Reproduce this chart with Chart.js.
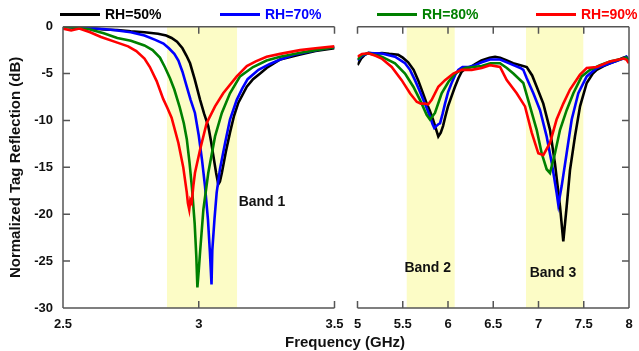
<!DOCTYPE html>
<html><head><meta charset="utf-8">
<script src="https://cdn.jsdelivr.net/npm/chart.js@4.4.0/dist/chart.umd.min.js"></script>
<style>
html,body{margin:0;padding:0;background:#fff;width:639px;height:351px;overflow:hidden;font-family:"Liberation Sans",Arial,sans-serif;}
#wrap{position:relative;width:639px;height:351px;}
#leftC{position:absolute;left:0;top:0;}
#rightC{position:absolute;left:340px;top:0;}
.leg{position:absolute;top:5px;height:18px;font-weight:bold;font-size:14px;line-height:18px;white-space:nowrap;}
.leg .ln{display:inline-block;width:40px;height:3px;vertical-align:middle;margin-right:5px;position:relative;top:-1px;}
#xtitle{position:absolute;left:245px;width:200px;top:333px;text-align:center;font-weight:bold;font-size:15px;line-height:18px;color:#111;}
</style>
</head><body>
<div id="wrap">
<canvas id="leftC" width="350" height="351"></canvas>
<canvas id="rightC" width="299" height="351"></canvas>
<div id="legend"></div>
<div id="xtitle">Frequency (GHz)</div>
</div>
<script>
// ---------- DATA ----------
const seriesLabels = ['RH=50%', 'RH=70%', 'RH=80%', 'RH=90%'];

// Left panel (2.5 - 3.5 GHz)
const l50Freq = [2.5,2.55,2.6,2.65,2.7,2.75,2.8,2.85,2.88,2.9,2.92,2.94,2.955,2.968,2.985,3.005,3.02,3.035,3.045,3.054,3.064,3.072,3.078,3.085,3.1,3.115,3.13,3.146,3.177,3.2,3.226,3.25,3.3,3.37,3.43,3.5];
const l50Db   = [0,-0.1,-0.15,-0.3,-0.35,-0.5,-0.6,-0.75,-0.95,-1.2,-1.6,-2.3,-3.1,-3.9,-5.6,-7.8,-9.3,-10.6,-12.2,-13.8,-15.6,-16.8,-16.5,-15.6,-13.3,-11.3,-9.5,-8.1,-6.4,-5.6,-5.0,-4.4,-3.5,-3.0,-2.6,-2.3];

const l70Freq = [2.5,2.55,2.6,2.65,2.7,2.75,2.8,2.84,2.87,2.89,2.91,2.925,2.94,2.955,2.97,2.986,3.0,3.012,3.023,3.034,3.041,3.047,3.05,3.058,3.066,3.078,3.097,3.115,3.14,3.16,3.18,3.22,3.26,3.3,3.35,3.4,3.45,3.5];
const l70Db   = [0,-0.05,-0.15,-0.25,-0.4,-0.6,-0.95,-1.4,-1.8,-2.3,-2.9,-3.6,-4.8,-6.3,-7.8,-9.2,-11.6,-14.2,-17.0,-20.6,-24.0,-27.5,-23.8,-20.5,-17.7,-15.2,-12.4,-9.9,-7.8,-6.6,-5.6,-4.6,-4.0,-3.5,-3.0,-2.7,-2.4,-2.2];

const l80Freq = [2.5,2.55,2.6,2.65,2.7,2.75,2.8,2.83,2.857,2.875,2.894,2.91,2.93,2.945,2.956,2.966,2.975,2.985,2.991,2.995,3.0,3.005,3.017,3.035,3.06,3.085,3.115,3.152,3.2,3.25,3.3,3.37,3.43,3.5];
const l80Db   = [0,-0.1,-0.3,-0.7,-1.2,-1.5,-2.0,-2.5,-3.3,-4.3,-5.5,-6.7,-8.6,-10.3,-12.0,-14.5,-17.2,-21.0,-24.5,-27.8,-26.0,-24.0,-19.5,-15.6,-11.7,-9.2,-7.1,-5.3,-4.3,-3.6,-3.2,-2.8,-2.5,-2.2];

const l90Freq = [2.5,2.53,2.56,2.6,2.64,2.7,2.74,2.77,2.8,2.82,2.845,2.869,2.885,2.9,2.925,2.943,2.956,2.96,2.965,2.969,2.974,2.98,2.986,3.005,3.029,3.06,3.09,3.14,3.177,3.21,3.25,3.3,3.373,3.43,3.5];
const l90Db   = [-0.2,-0.4,-0.2,-0.6,-1.1,-1.7,-2.1,-2.6,-3.4,-4.3,-5.8,-7.7,-8.7,-9.7,-12.4,-15.0,-17.7,-18.8,-19.5,-18.5,-18.8,-17.0,-15.6,-13.1,-10.3,-8.5,-7.1,-5.3,-4.2,-3.7,-3.2,-2.9,-2.5,-2.3,-2.1];

// Right panel (5 - 8 GHz)
const r50Freq = [5.0,5.04,5.08,5.12,5.2,5.27,5.35,5.45,5.5,5.56,5.62,5.67,5.72,5.765,5.8,5.834,5.87,5.893,5.92,5.945,5.97,6.0,6.04,6.077,6.115,6.151,6.2,6.25,6.3,6.37,6.46,6.52,6.575,6.65,6.72,6.8,6.87,6.93,6.98,7.053,7.127,7.182,7.238,7.274,7.311,7.348,7.403,7.459,7.533,7.6,7.643,7.72,7.79,7.87,7.937,7.97,8.0];
const r50Db   = [-4.1,-3.4,-3.0,-2.8,-2.9,-2.8,-2.9,-3.0,-3.3,-3.8,-4.6,-5.7,-7.0,-8.2,-9.0,-9.9,-11.0,-11.7,-11.3,-10.6,-9.6,-8.5,-7.4,-6.4,-5.5,-4.8,-4.4,-4.3,-4.0,-3.6,-3.3,-3.2,-3.3,-3.6,-3.9,-4.1,-4.3,-5.2,-6.4,-8.2,-11.0,-14.6,-19.2,-22.9,-19.2,-15.3,-11.7,-8.5,-6.0,-5.0,-4.6,-4.2,-3.9,-3.6,-3.3,-3.2,-3.8];

const r70Freq = [5.0,5.05,5.12,5.27,5.414,5.525,5.58,5.635,5.68,5.727,5.77,5.801,5.83,5.849,5.87,5.893,5.912,5.94,5.967,6.0,6.04,6.077,6.114,6.16,6.225,6.3,6.372,6.464,6.575,6.65,6.722,6.8,6.832,6.87,6.943,7.017,7.09,7.146,7.2,7.219,7.256,7.311,7.367,7.44,7.533,7.643,7.79,7.937,7.97,8.0];
const r70Db   = [-3.6,-3.1,-2.8,-2.85,-3.2,-3.9,-4.6,-5.7,-6.7,-7.8,-8.8,-9.6,-10.4,-10.8,-10.6,-10.4,-10.3,-9.3,-8.2,-7.0,-6.0,-5.2,-4.6,-4.3,-4.3,-4.1,-3.8,-3.5,-3.5,-3.8,-4.1,-4.4,-4.6,-5.5,-7.1,-8.9,-11.7,-14.5,-17.7,-19.0,-17.0,-13.5,-9.9,-7.1,-5.3,-4.4,-3.9,-3.4,-3.2,-3.6];

const r80Freq = [5.0,5.05,5.12,5.267,5.414,5.525,5.617,5.69,5.764,5.801,5.856,5.93,6.004,6.077,6.188,6.372,6.47,6.575,6.65,6.722,6.832,6.906,6.98,7.035,7.09,7.127,7.182,7.238,7.311,7.385,7.477,7.569,7.68,7.79,7.937,7.97,8.0];
const r80Db   = [-3.5,-3.0,-2.83,-3.2,-3.9,-5.0,-6.4,-7.8,-9.4,-9.9,-9.2,-7.1,-5.9,-5.0,-4.4,-4.2,-3.9,-3.9,-4.4,-5.0,-6.0,-8.5,-11.0,-13.5,-15.2,-15.6,-13.5,-11.0,-8.9,-7.1,-5.3,-4.6,-4.1,-3.7,-3.4,-3.3,-3.7];

const r90Freq = [5.0,5.05,5.12,5.2,5.267,5.378,5.488,5.58,5.654,5.7,5.746,5.78,5.82,5.893,5.967,6.059,6.151,6.262,6.372,6.464,6.575,6.649,6.759,6.851,6.925,6.998,7.053,7.127,7.2,7.274,7.348,7.459,7.533,7.643,7.79,7.937,7.97,8.0];
const r90Db   = [-3.2,-2.9,-2.83,-3.1,-3.4,-4.3,-5.7,-7.1,-8.0,-8.2,-8.2,-8.3,-7.8,-6.4,-5.7,-5.0,-4.6,-4.6,-4.4,-4.1,-4.3,-5.7,-7.1,-8.5,-11.3,-13.5,-13.7,-12.4,-9.9,-8.2,-6.7,-5.1,-4.4,-4.3,-3.7,-3.4,-3.5,-3.9];

// Frequency bands (GHz)
const leftBands  = [[2.883, 3.141]];
const rightBands = [[5.544, 6.074], [6.862, 7.495]];
const bandNames  = ['Band 1', 'Band 2', 'Band 3'];

const yTicksMin = -30, yTicksMax = 0, yStep = 5;
const xStep = 0.5;

// ---------- STYLE ----------
const colors = ['#000000', '#0000FF', '#008000', '#FF0000'];
const FONT = '"Liberation Sans", Arial, sans-serif';
const axisColor = '#555';

// Legend (HTML)
const legendX = [60, 220, 377, 536];
const legend = document.getElementById('legend');
seriesLabels.forEach((lab, i) => {
  const d = document.createElement('div');
  d.className = 'leg';
  d.style.left = legendX[i] + 'px';
  d.style.color = colors[i];
  d.innerHTML = '<span class="ln" style="background:' + colors[i] + '"></span>' + lab;
  legend.appendChild(d);
});

function mkSets(freqs, dbs) {
  return freqs.map((f, i) => ({
    label: seriesLabels[i],
    data: f.map((x, k) => ({x: x, y: dbs[i][k]})),
    borderColor: colors[i],
    backgroundColor: colors[i],
    borderWidth: 2.6,
    pointRadius: 0,
    tension: 0,
    fill: false,
    order: 3 - i
  }));
}

const bandPlugin = {
  id: 'bands',
  beforeDatasetsDraw(chart, args, opts) {
    const {ctx, chartArea: a, scales: {x}} = chart;
    ctx.save();
    ctx.fillStyle = 'rgb(252,252,198)';
    opts.bands.forEach(b => {
      const x0 = x.getPixelForValue(b[0]), x1 = x.getPixelForValue(b[1]);
      ctx.fillRect(x0, a.top, x1 - x0, a.bottom - a.top);
    });
    ctx.restore();
  },
  afterDatasetsDraw(chart, args, opts) {
    const {ctx, chartArea: a, scales: {x, y}} = chart;
    ctx.save();
    ctx.fillStyle = '#111';
    ctx.font = 'bold 14px ' + FONT;
    ctx.textBaseline = 'middle';
    opts.labels.forEach(l => {
      ctx.textAlign = l.align;
      ctx.fillText(l.text, x.getPixelForValue(l.x), y.getPixelForValue(l.y));
    });
    ctx.strokeStyle = axisColor;
    ctx.lineWidth = 1.5;
    ctx.beginPath();
    ctx.moveTo(a.left, a.top); ctx.lineTo(a.right, a.top);
    ctx.moveTo(a.left, a.bottom); ctx.lineTo(a.right, a.bottom);
    const sx = opts.side === 'left' ? a.left : a.right;
    ctx.moveTo(sx, a.top); ctx.lineTo(sx, a.bottom);
    x.ticks.forEach(t => {
      const px = x.getPixelForValue(t.value);
      ctx.moveTo(px, a.top); ctx.lineTo(px, a.top + 7);
      ctx.moveTo(px, a.bottom); ctx.lineTo(px, a.bottom - 7);
    });
    y.ticks.forEach(t => {
      const py = y.getPixelForValue(t.value);
      if (opts.side === 'left') { ctx.moveTo(a.left, py); ctx.lineTo(a.left + 7, py); }
      else { ctx.moveTo(a.right, py); ctx.lineTo(a.right - 7, py); }
    });
    ctx.stroke();
    ctx.restore();
  }
};

function makeChart(id, sets, cfg) {
  return new Chart(document.getElementById(id), {
    type: 'line',
    data: {datasets: sets},
    options: {
      responsive: false,
      animation: false,
      events: [],
      layout: {padding: {left: cfg.padL, right: cfg.padR, top: 26.7, bottom: 0}},
      plugins: {
        legend: {display: false},
        tooltip: {enabled: false},
        bands: {bands: cfg.bands, labels: cfg.labels, side: cfg.side}
      },
      scales: {
        x: {
          type: 'linear', min: cfg.xmin, max: cfg.xmax,
          ticks: {stepSize: xStep, color: '#111', font: {family: FONT, size: 13, weight: 'bold'}, padding: 9, maxRotation: 0, autoSkip: false,
                  callback: v => String(Math.round(v * 10) / 10)},
          grid: {display: false, drawTicks: false},
          border: {display: false},
          afterFit: s => { s.height = 43; s.paddingLeft = 0; s.paddingRight = 0; }
        },
        y: {
          position: cfg.side, min: yTicksMin, max: yTicksMax,
          ticks: {stepSize: yStep, display: cfg.side === 'left', color: '#111', font: {family: FONT, size: 13, weight: 'bold'}, padding: 10,
                  callback: v => String(v)},
          grid: {display: false, drawTicks: false},
          border: {display: false},
          title: {display: cfg.side === 'left', text: 'Normalized Tag Reflection (dB)', color: '#111', font: {family: FONT, size: 15, weight: 'bold'}, padding: {top: 7, bottom: 0}},
          afterFit: s => { s.width = cfg.yWidth; s.paddingTop = 0; s.paddingBottom = 0; }
        }
      }
    },
    plugins: [bandPlugin]
  });
}

makeChart('leftC', mkSets([l50Freq, l70Freq, l80Freq, l90Freq], [l50Db, l70Db, l80Db, l90Db]), {
  side: 'left', xmin: 2.5, xmax: 3.5, padL: 0, padR: 15.5, yWidth: 63,
  bands: leftBands,
  labels: [{text: bandNames[0], x: 3.147, y: -18.7, align: 'left'}]
});
makeChart('rightC', mkSets([r50Freq, r70Freq, r80Freq, r90Freq], [r50Db, r70Db, r80Db, r90Db]), {
  side: 'right', xmin: 5, xmax: 8, padL: 17.5, padR: 0, yWidth: 10,
  bands: rightBands,
  labels: [{text: bandNames[1], x: 5.776, y: -25.8, align: 'center'},
           {text: bandNames[2], x: 7.16, y: -26.3, align: 'center'}]
});
</script>
</body></html>
